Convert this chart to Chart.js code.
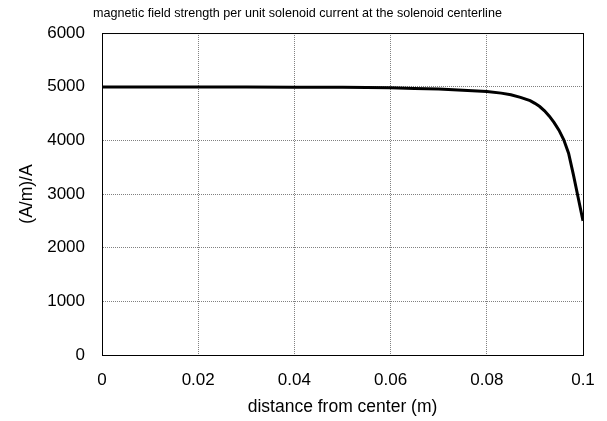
<!DOCTYPE html>
<html>
<head>
<meta charset="utf-8">
<script src="https://cdn.jsdelivr.net/npm/chart.js@4"></script>
<style>
  html, body { margin: 0; padding: 0; background: #ffffff; }
  #wrap { width: 607px; height: 421px; }
</style>
</head>
<body>
<div id="wrap"><canvas id="fieldChart" width="607" height="421"></canvas></div>
<script>
// distances from center (m)
const distances = [0, 0.01, 0.02, 0.03, 0.04, 0.05, 0.055, 0.06, 0.065, 0.07, 0.075, 0.08,
    0.083, 0.085, 0.087, 0.089, 0.09, 0.091, 0.092, 0.093, 0.094, 0.095, 0.096, 0.097,
    0.098, 0.099, 0.1];
// field strength per unit current ((A/m)/A)
const fieldValues = [4995, 4995, 4994, 4993, 4991, 4988, 4984, 4978, 4968, 4955, 4935, 4910,
    4880, 4850, 4800, 4740, 4690, 4630, 4550, 4450, 4330, 4190, 4010, 3760,
    3360, 2930, 2500];
const xTicks = [0, 0.02, 0.04, 0.06, 0.08, 0.1];
const yTicks = [0, 1000, 2000, 3000, 4000, 5000, 6000];

const points = distances.map((d, i) => ({ x: d, y: fieldValues[i] }));

// borda preta em volta da area do grafico
const frameBox = {
    id: 'frameBox',
    afterDraw(chart) {
        const { ctx, chartArea } = chart;
        ctx.save();
        ctx.strokeStyle = '#000000';
        ctx.lineWidth = 1;
        ctx.setLineDash([]);
        ctx.strokeRect(chartArea.left + 0.5, chartArea.top + 0.5,
            chartArea.right - chartArea.left, chartArea.bottom - chartArea.top);
        ctx.restore();
    }
};

const gridStyle = { color: '#808080', lineWidth: 1, drawTicks: false };
const borderStyle = { display: true, color: '#000000', dash: [1, 1] };

new Chart(document.getElementById('fieldChart').getContext('2d'), {
    type: 'line',
    data: {
        datasets: [{
            data: points,
            borderColor: '#000000',
            borderWidth: 3,
            pointRadius: 0,
            tension: 0,
            fill: false
        }]
    },
    options: {
        responsive: false,
        animation: false,
        layout: { padding: { left: 12, right: 24, top: 0, bottom: 0 } },
        plugins: {
            legend: { display: false },
            tooltip: { enabled: false },
            title: {
                display: true,
                text: 'magnetic field strength per unit solenoid current at the solenoid centerline',
                color: '#000000',
                font: { family: 'Liberation Sans', size: 12.6, weight: 'normal', lineHeight: 1.2 },
                padding: { top: 6, bottom: 11.9 }
            }
        },
        scales: {
            x: {
                type: 'linear',
                min: 0,
                max: 0.1,
                afterBuildTicks: (scale) => { scale.ticks = xTicks.map(v => ({ value: v })); },
                afterFit: (scale) => {
                    scale.height = 66;
                    scale.paddingLeft = 0;
                    scale.paddingRight = 0;
                },
                grid: gridStyle,
                border: borderStyle,
                ticks: {
                    color: '#000000',
                    padding: 15,
                    maxRotation: 0,
                    font: { family: 'Liberation Sans', size: 17 },
                    callback: (v) => String(Number(v.toFixed(2)))
                },
                title: {
                    display: true,
                    text: 'distance from center (m)',
                    color: '#000000',
                    font: { family: 'Liberation Sans', size: 17.5, lineHeight: 1.2 },
                    padding: { top: 0, bottom: 3 }
                }
            },
            y: {
                type: 'linear',
                min: 0,
                max: 6000,
                afterBuildTicks: (scale) => { scale.ticks = yTicks.map(v => ({ value: v })); },
                afterFit: (scale) => { scale.width = 90; },
                grid: gridStyle,
                border: borderStyle,
                ticks: {
                    color: '#000000',
                    padding: 17,
                    font: { family: 'Liberation Sans', size: 17 },
                    callback: (v) => String(v)
                },
                title: {
                    display: true,
                    text: '(A/m)/A',
                    color: '#000000',
                    font: { family: 'Liberation Sans', size: 17.5, lineHeight: 1.2 },
                    padding: { top: 5, bottom: 0 }
                }
            }
        }
    },
    plugins: [frameBox]
});
</script>
</body>
</html>
